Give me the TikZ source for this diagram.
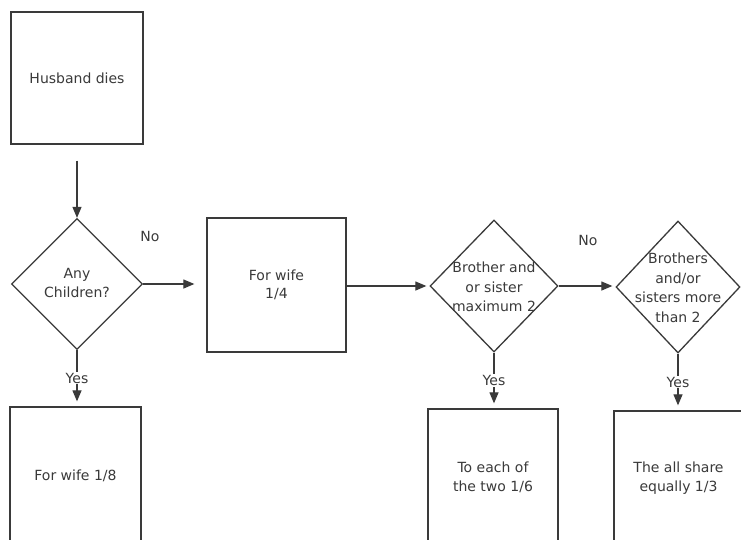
\documentclass[tikz,border=0pt]{standalone}
\usepackage{fontspec}
\setmainfont{DejaVu Sans}
\usetikzlibrary{shapes.geometric,arrows.meta}
\definecolor{ink}{HTML}{3A3A3A}
\tikzset{
  box/.style={draw=ink, line width=1.3pt, rectangle, inner sep=0pt, align=center, text=ink, font=\fontsize{14}{19}\selectfont},
  dia/.style={draw=ink, line width=1.3pt, diamond, inner sep=0pt, aspect=1},
  dtext/.style={align=center, text=ink, font=\fontsize{14}{19.5}\selectfont, inner sep=0pt},
  lbl/.style={text=ink, font=\fontsize{14}{17}\selectfont, inner sep=1pt},
  conn/.style={draw=ink, line width=1.2pt, -{Triangle[length=11pt,width=9pt]}},
}
\begin{document}
\begin{tikzpicture}[x=1pt,y=-1pt]
\useasboundingbox[fill=white] (0,0) rectangle (741,539);
% boxes
\node[box, minimum width=132pt, minimum height=132pt] (hd) at (77,78) {Husband dies};
\node[box, minimum width=139pt, minimum height=134pt] (b2) at (276.5,285) {For wife\\[-1pt]1/4};
\node[box, minimum width=131pt, minimum height=138pt] (b1) at (75.5,476) {For wife 1/8};
\node[box, minimum width=130pt, minimum height=136pt] (b3) at (493,477) {To each of\\the two 1/6};
\node[box, minimum width=129pt, minimum height=134pt] (b4) at (678.5,478) {The all share\\equally 1/3};
% diamonds
\node[dia, minimum width=131pt, minimum height=131pt] (d1) at (77,284) {};
\node[dtext] (t1) at (77,283) {Any\\Children?};
\node[dia, minimum width=128pt, minimum height=132pt] (d3) at (494,286) {};
\node[dtext] (t3) at (494,287) {Brother and\\or sister\\maximum 2};
\node[dia, minimum width=124pt, minimum height=132pt] (d4) at (678,287) {};
\node[dtext] (t4) at (678,288) {Brothers\\and/or\\sisters more\\than 2};
% labels
\node[lbl] (no1) at (150,236) {No};
\node[lbl] (no2) at (588,240) {No};
% connectors
\draw[conn, shorten <=16pt] (hd.south) -- (d1.north);
\draw[conn, shorten >=12pt] (d1.east) -- (d1.east -| b2.west);
\draw[conn, shorten >=3pt] (b2.east |- d3.west) -- (d3.west);
\draw[conn, shorten >=3pt] (d3.east) -- (d3.east -| d4.west);
\draw[conn, shorten >=5pt] (d1.south) -- node[lbl, fill=white, midway] (y1) {Yes} (d1.south |- b1.north);
\draw[conn, shorten >=5pt] (d3.south) -- node[lbl, fill=white, midway] (y3) {Yes} (d3.south |- b3.north);
\draw[conn, shorten >=5pt] (d4.south) -- node[lbl, fill=white, midway] (y4) {Yes} (d4.south |- b4.north);
\end{tikzpicture}
\end{document}
